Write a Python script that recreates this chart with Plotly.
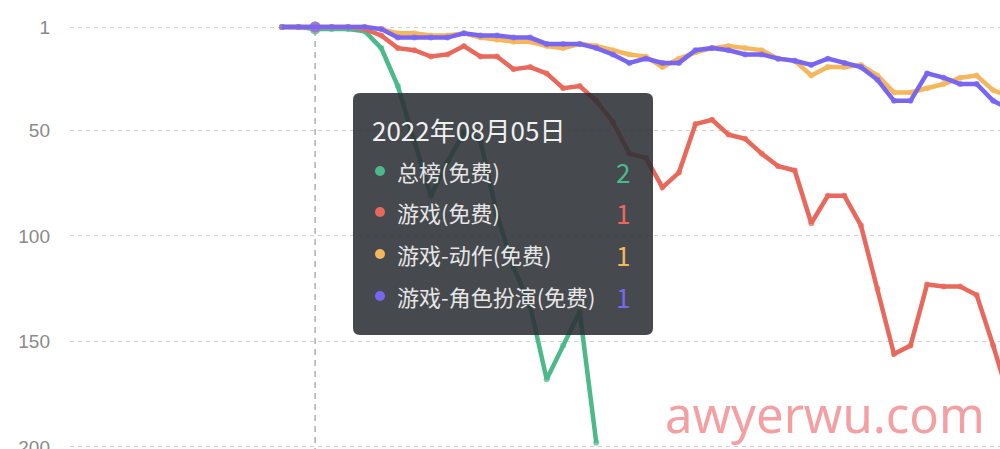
import plotly.graph_objects as go
import pandas as pd

# ---------------- data ----------------
start_date = "2022-08-03"
n_days = 45
dates = pd.date_range(start_date, periods=n_days, freq="D")

series_names = ["总榜(免费)", "游戏(免费)", "游戏-动作(免费)", "游戏-角色扮演(免费)"]
series_colors = ["#4cb98a", "#e8695b", "#f5b65c", "#7866f2"]

total_free = [1, 1, 2, 2, 2, 3, 11, 29, 55, 81, 65, 51, 55, 90, 115, 133, 168, 152, 136, 198,
              None, None, None, None, None, None, None, None, None, None, None, None, None,
              None, None, None, None, None, None, None, None, None, None, None, None]
game_free = [1, 1, 1, 1, 1, 2, 5, 11, 12, 15, 14, 10, 15, 15, 21, 20, 23, 30, 29, 36,
             46, 61, 63, 77, 70, 47, 45, 52, 54, 61, 67, 69, 94, 81, 81, 95, 125, 156, 152,
             123, 124, 124, 128, 152, 178]
action_free = [1, 1, 1, 1, 1, 1, 2, 4, 4, 5, 5, 4, 6, 7, 8, 8, 10, 11, 9, 10,
               12, 14, 15, 20, 16, 13, 11, 10, 11, 12, 16, 17, 24, 20, 20, 19, 24, 32, 32,
               30, 28, 25, 24, 31, 34]
rpg_free = [1, 1, 1, 1, 1, 1, 2, 6, 6, 6, 6, 4, 5, 5, 6, 6, 9, 9, 9, 11,
            14, 18, 16, 18, 18, 12, 11, 12, 14, 14, 16, 17, 19, 16, 18, 20, 26, 36, 36,
            23, 25, 28, 28, 36, 40]
series_values = [total_free, game_free, action_free, rpg_free]

y_tick_vals = [1, 50, 100, 150, 200]
y_tick_text = ["1", "50", "100", "150", "200"]

tooltip_title = "2022年08月05日"
tooltip_index = 2
tooltip_values = ["2", "1", "1", "1"]

watermark = "awyerwu.com"

# ---------------- figure ----------------
W, H = 1000, 449
ML, MR, MT, MB = 70, 0, 0, 0
PW, PH = W - ML - MR, H - MT - MB


def px(xp):
    return (xp - ML) / PW


def py(yp):
    return 1 - (yp - MT) / PH


fig = go.Figure()
for name, color, vals in zip(series_names, series_colors, series_values):
    sizes = [11 if i == tooltip_index else 6 for i in range(len(vals))]
    fig.add_trace(go.Scatter(
        x=dates, y=vals, name=name, mode="lines+markers",
        line=dict(color=color, width=4.5),
        marker=dict(color=color, size=sizes, line=dict(width=0)),
        connectgaps=False, showlegend=False,
    ))

d0 = dates[0]
x_range = [d0 - pd.Timedelta(days=12.82), d0 + pd.Timedelta(days=43.41)]

fig.update_xaxes(range=x_range, visible=False, showgrid=False, zeroline=False,
                 automargin=False)
fig.update_yaxes(
    range=[201, -11.8], tickvals=y_tick_vals, ticktext=y_tick_text,
    showgrid=True, gridcolor="#d0d0d0", griddash="4px,4px", gridwidth=1,
    zeroline=False, showline=False, ticks="", ticklabelstandoff=19,
    ticklabeloverflow="allow", automargin=False,
    tickfont=dict(size=19, color="#8a8a8a", family="Liberation Sans, Arial, sans-serif"),
)

shapes = []
# crosshair
shapes.append(dict(type="line", xref="x", yref="paper",
                   x0=dates[tooltip_index], x1=dates[tooltip_index],
                   y0=py(30), y1=0, line=dict(color="#b0b0b0", width=1.5, dash="6px,5px"),
                   layer="below"))

# tooltip box (rounded rect)
x0, x1, y0, y1, r = 353, 653, 93, 335, 7
path = (f"M {px(x0 + r)} {py(y0)} L {px(x1 - r)} {py(y0)} "
        f"Q {px(x1)} {py(y0)} {px(x1)} {py(y0 + r)} "
        f"L {px(x1)} {py(y1 - r)} Q {px(x1)} {py(y1)} {px(x1 - r)} {py(y1)} "
        f"L {px(x0 + r)} {py(y1)} Q {px(x0)} {py(y1)} {px(x0)} {py(y1 - r)} "
        f"L {px(x0)} {py(y0 + r)} Q {px(x0)} {py(y0)} {px(x0 + r)} {py(y0)} Z")
shapes.append(dict(type="path", xref="paper", yref="paper", path=path,
                   fillcolor="rgba(44,48,54,0.88)", line=dict(width=0), layer="above"))

row_y = [171, 212, 254, 296]
annotations = [dict(xref="paper", yref="paper", x=px(370), y=py(130), text=tooltip_title,
                    showarrow=False, xanchor="left", yanchor="middle",
                    font=dict(size=26, color="#f0f0f0", family="Noto Sans CJK SC"))]
for name, color, val, ry in zip(series_names, series_colors, tooltip_values, row_y):
    shapes.append(dict(type="circle", xref="paper", yref="paper",
                       x0=px(375), x1=px(385), y0=py(ry - 5), y1=py(ry + 5),
                       fillcolor=color, line=dict(width=0), layer="above"))
    annotations.append(dict(xref="paper", yref="paper", x=px(395), y=py(ry), text=name,
                            showarrow=False, xanchor="left", yanchor="middle",
                            font=dict(size=22, color="#e6e6e6", family="Noto Sans CJK SC")))
    annotations.append(dict(xref="paper", yref="paper", x=px(632), y=py(ry), text=val,
                            showarrow=False, xanchor="right", yanchor="middle",
                            font=dict(size=26, color=color, family="Noto Sans CJK SC")))

annotations.append(dict(xref="paper", yref="paper", x=px(825), y=py(414), text=watermark,
                        showarrow=False, xanchor="center", yanchor="middle",
                        font=dict(size=49, color="rgba(236,96,100,0.6)", family="Noto Sans")))

fig.update_layout(
    width=W, height=H, margin=dict(l=ML, r=MR, t=MT, b=MB, autoexpand=False),
    paper_bgcolor="white", plot_bgcolor="white",
    shapes=shapes, annotations=annotations, hovermode=False,
)

fig.write_html("out.html", config={"displayModeBar": False},
               post_script="document.body.style.margin='0';document.body.style.overflow='hidden';")
